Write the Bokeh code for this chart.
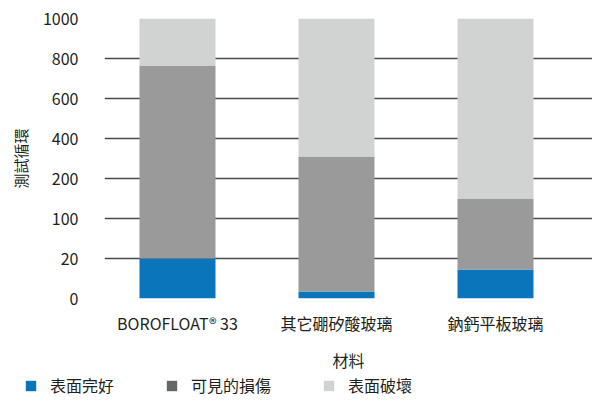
import numpy as np
from bokeh.plotting import figure
from bokeh.layouts import column
from bokeh.models import FixedTicker, Legend, LegendItem, ColumnDataSource
from bokeh.embed import file_html
from bokeh.resources import INLINE

# ---- data ----
categories = ["BOROFLOAT® 33", "其它硼矽酸玻璃", "鈉鈣平板玻璃"]
intact = [20, 3.5, 14.5]          # 表面完好
damaged = [745, 306.5, 135.5]     # 可見的損傷
destroyed = [235, 690, 850]       # 表面破壞
series_names = ["表面完好", "可見的損傷", "表面破壞"]
tick_values = [0, 20, 100, 200, 400, 600, 800, 1000]
y_title = "測試循環"
x_title = "材料"

bar_colors = ["#0b75bc", "#999a99", "#d1d3d3"]
legend_colors = ["#0b75bc", "#646766", "#d1d3d3"]
FONT = "Noto Sans CJK TC"
TXT = "#231f20"

# piecewise axis: each tick value is one equal step
tick_idx = list(range(len(tick_values)))
def tr(v):
    return np.interp(v, tick_values, tick_idx)

c1 = np.array(intact)
c2 = c1 + np.array(damaged)
c3 = c2 + np.array(destroyed)
xs = list(range(1, len(categories) + 1))

src = ColumnDataSource(dict(
    x=xs,
    b0=tr(np.zeros(len(xs))), t0=tr(c1),
    b1=tr(c1), t1=tr(c2),
    b2=tr(c2), t2=tr(c3),
))

p = figure(width=592, height=374, output_backend="svg", toolbar_location=None,
           x_range=(0.541, 3.610), y_range=(0, len(tick_values) - 1),
           min_border_left=104, min_border_right=0, min_border_top=18,
           min_border_bottom=76)
p.outline_line_color = None
p.background_fill_color = "white"
p.border_fill_color = "white"

w = 0.478
for i, col in enumerate(bar_colors):
    p.vbar(x="x", bottom=f"b{i}", top=f"t{i}", width=w, source=src,
           fill_color=col, line_color=None)

p.xgrid.grid_line_color = None
p.ygrid.grid_line_color = "#4a4a4a"
p.ygrid.grid_line_width = 1.5
p.yaxis.ticker = FixedTicker(ticks=tick_idx)
p.yaxis.major_label_overrides = {i: str(v) for i, v in zip(tick_idx, tick_values)}
p.xaxis.ticker = FixedTicker(ticks=xs)
p.xaxis.major_label_overrides = {x: c for x, c in zip(xs, categories)}

for ax in (p.xaxis, p.yaxis):
    ax.axis_line_color = None
    ax.major_tick_line_color = None
    ax.minor_tick_line_color = None
    ax.major_tick_out = 0
    ax.major_tick_in = 0
    ax.major_label_text_font = FONT
    ax.major_label_text_color = TXT
    ax.axis_label_text_font = FONT
    ax.axis_label_text_font_style = "normal"
    ax.axis_label_text_color = TXT

p.yaxis.major_label_text_font_size = "16px"
p.yaxis.major_label_standoff = 26
p.yaxis.axis_label = y_title
p.yaxis.axis_label_text_font_size = "15px"
p.yaxis.axis_label_standoff = 9

p.xaxis.major_label_text_font_size = "16px"
p.xaxis.major_label_standoff = 12
p.xaxis.axis_label = x_title
p.xaxis.axis_label_text_font_size = "16px"
p.xaxis.axis_label_standoff = 10

# legend strip below the chart (swatch renderers sit outside its visible range)
lf = figure(width=592, height=24, output_backend="svg", toolbar_location=None,
            x_range=(0, 1), y_range=(0, 1), min_border=0,
            x_axis_location=None, y_axis_location=None)
lf.frame_align = False
lf.outline_line_color = None
lf.xgrid.grid_line_color = None
lf.ygrid.grid_line_color = None
swatch = ColumnDataSource(dict(x=[50], b=[50], t=[51]))
leg_r = [lf.vbar(x="x", bottom="b", top="t", width=0.5, source=swatch,
                 fill_color=c, line_color=None) for c in legend_colors]
legend = Legend(items=[LegendItem(label=n, renderers=[r]) for n, r in zip(series_names, leg_r)],
                orientation="horizontal", location=(24, 1),
                padding=0, margin=0, border_line_color=None, background_fill_alpha=0,
                glyph_width=13, glyph_height=13, label_height=22,
                label_standoff=13, spacing=51,
                label_text_font=FONT, label_text_font_size="16px",
                label_text_color=TXT)
lf.add_layout(legend, "center")

open("out.html", "w").write(file_html(column(p, lf, spacing=0), INLINE))
